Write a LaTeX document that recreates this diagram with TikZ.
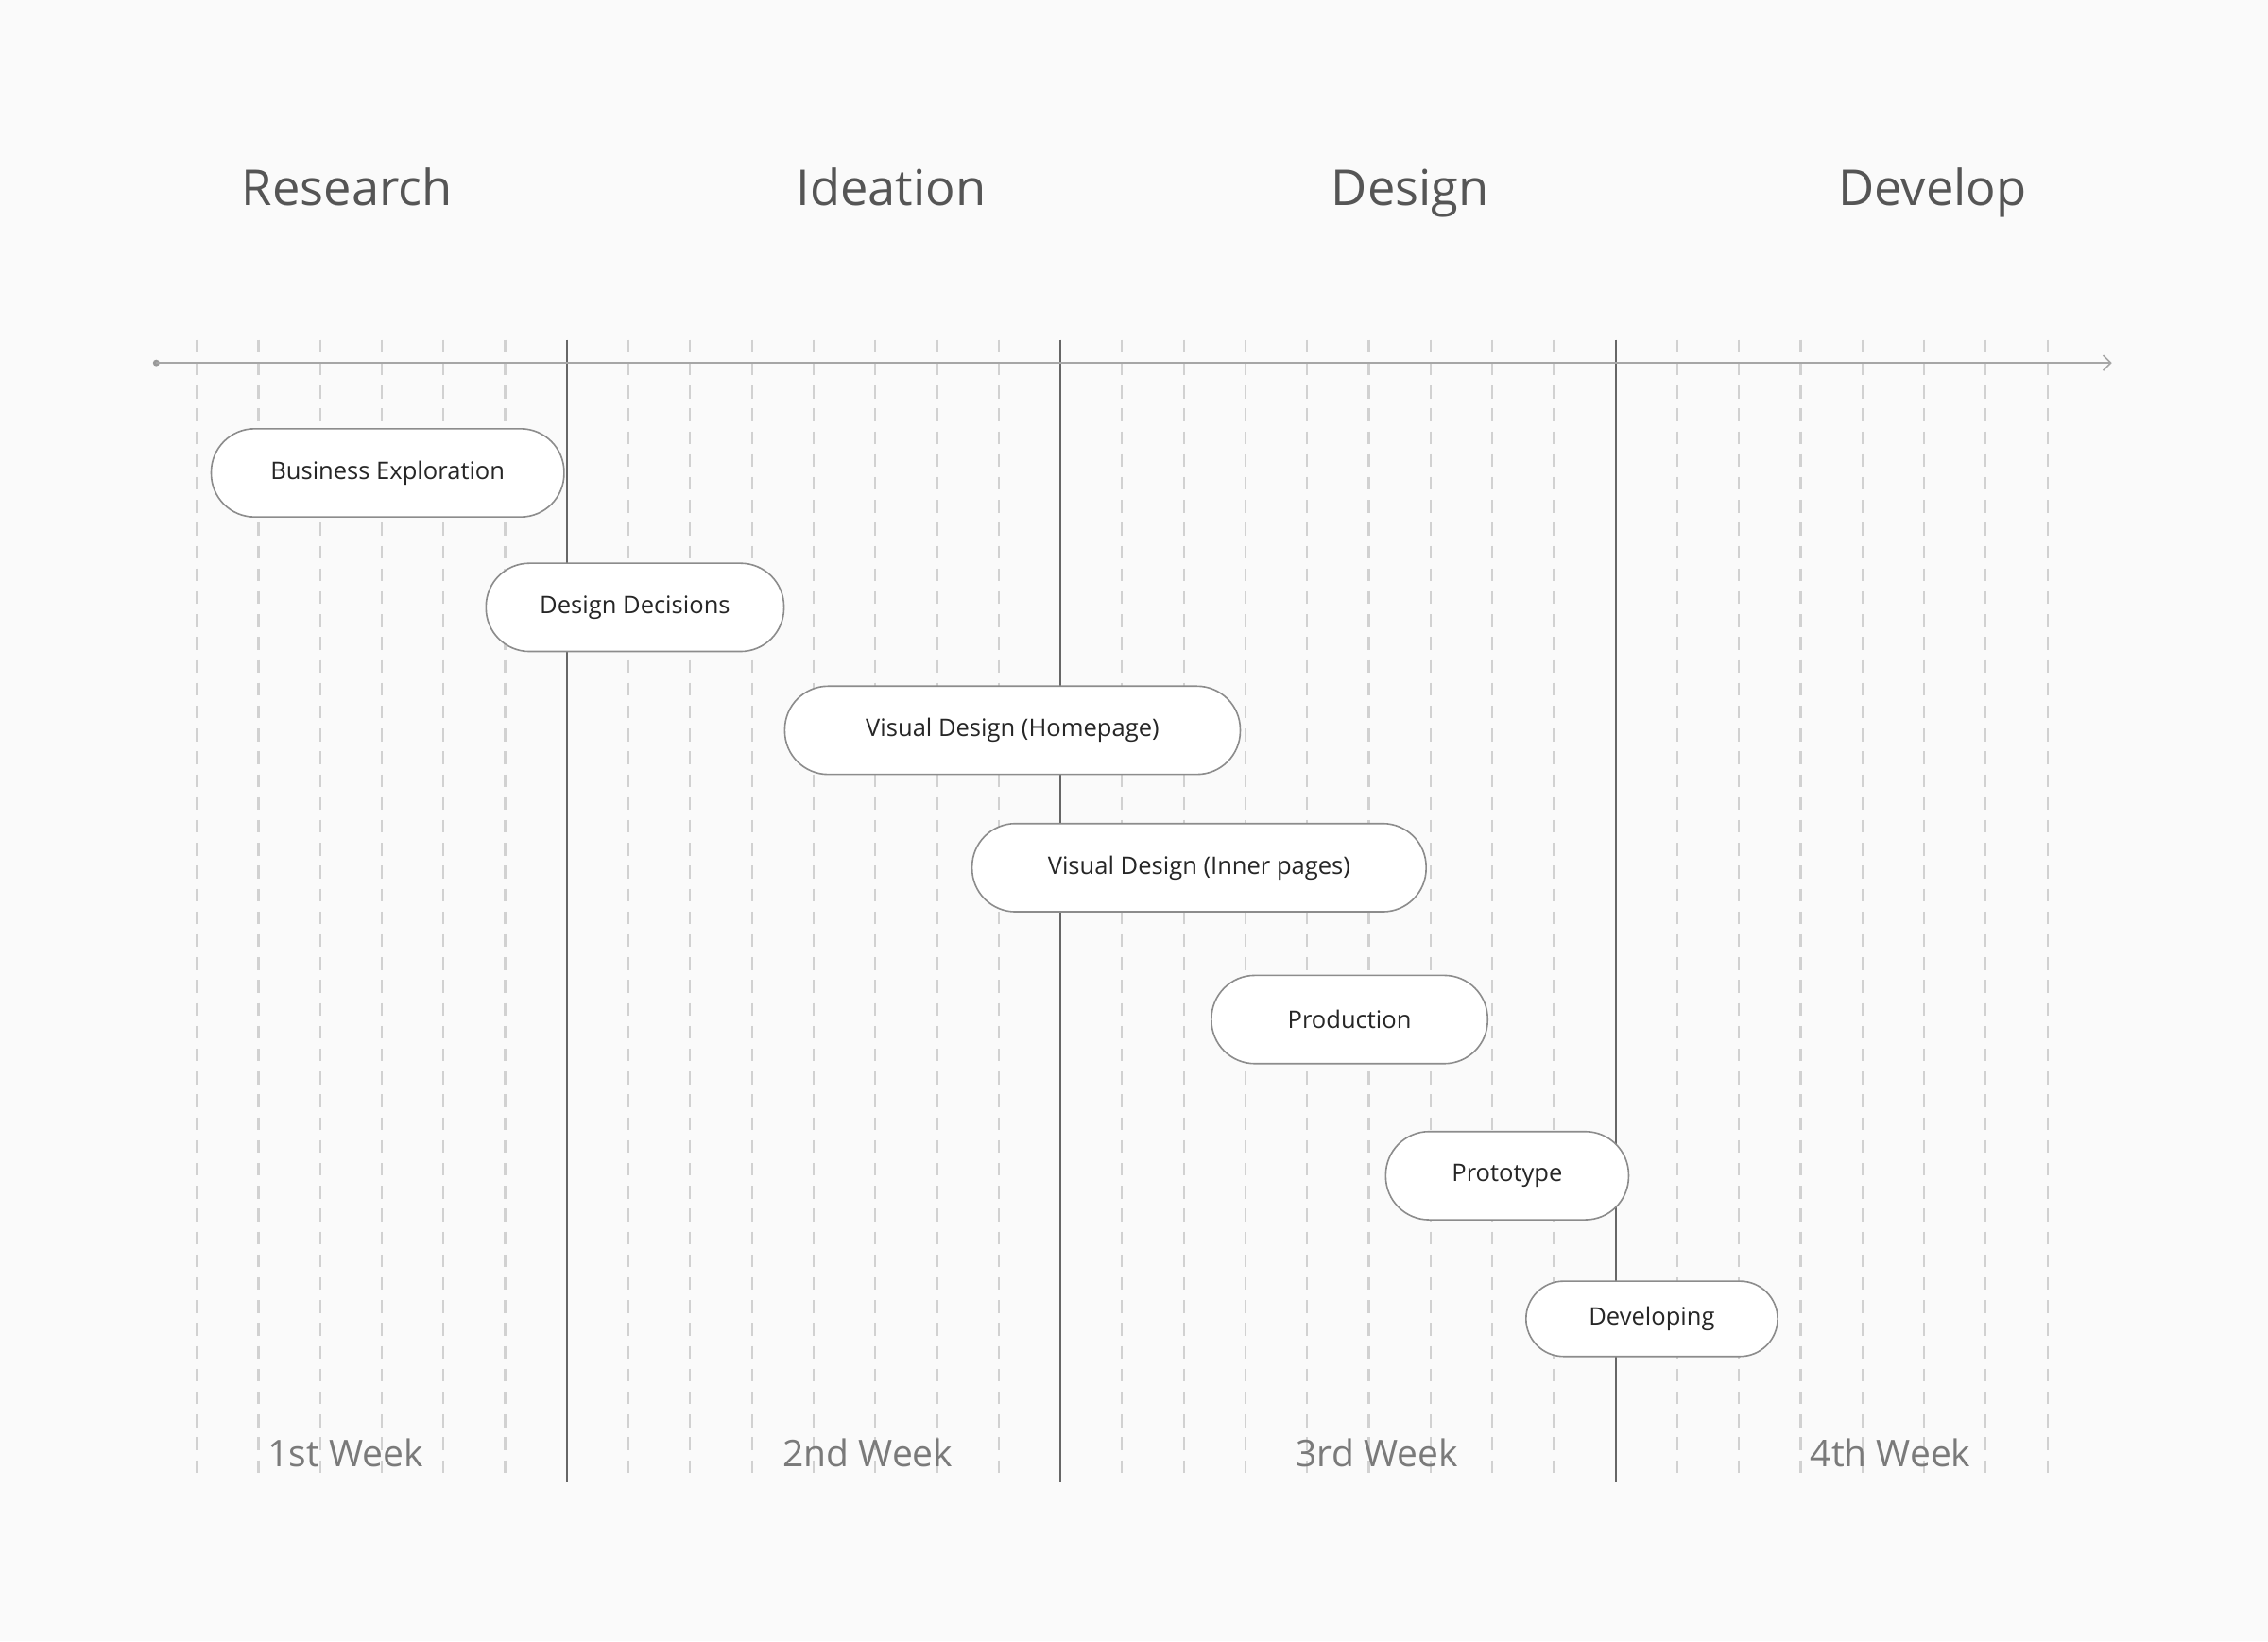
\documentclass[tikz,border=0pt]{standalone}
\usepackage{fontspec}
\setmainfont{Open Sans}
\usetikzlibrary{arrows.meta}
\definecolor{bgc}{HTML}{FAFAFA}
\definecolor{headc}{HTML}{555555}
\definecolor{weekc}{HTML}{7A7A7A}
\tikzset{
  pill/.style={draw=black!45, fill=white, rounded corners=0.6cm, line width=0.6pt,
    minimum height=1.22cm, inner sep=0pt, font=\fontsize{9.5}{11}\selectfont, text=black!85},
  phase/.style={anchor=base, font=\fontsize{19.5}{23}\selectfont, text=headc},
  week/.style={anchor=base, font=\fontsize{14.5}{17}\selectfont, text=weekc},
  tick/.style={draw=black!18, dashed, dash pattern=on 5pt off 4pt, line width=0.8pt},
  sep/.style={draw=black!60, line width=0.7pt}
}
\begin{document}
\begin{tikzpicture}[x=0.02cm,y=-0.02cm]
\fill[bgc] (0,0) rectangle (1568,1135);
\useasboundingbox (0,0) rectangle (1568,1135);

% grid of days
\foreach \i in {0,...,30}{
  \coordinate (t\i) at ({136+42.65*\i},235);
  \coordinate (b\i) at ({136+42.65*\i},1025);
}
\foreach \i in {0,...,30}{
  \ifnum\i=6 \else\ifnum\i=14 \else\ifnum\i=23 \else
  \draw[tick] (t\i) -- (b\i);
  \fi\fi\fi
}
\foreach \i in {6,14,23}
  \draw[sep] (t\i) -- (b\i);

% time axis
\coordinate (axs) at (108,251);
\coordinate (axe) at (1460,251);
\fill[black!40] (axs) circle (1.3pt);
\draw[black!35, line width=0.6pt, -{Straight Barb[length=3pt]}] (axs) -- (axe);

% phases
\node[phase] (research) at (240,142) {Research};
\node[phase] (ideation) at (616,142) {Ideation};
\node[phase] (design) at (975,142) {Design};
\node[phase] (develop) at (1336,142) {Develop};

% weeks
\node[week] (w1) at (239,1014) {1st Week};
\node[week] (w2) at (600,1014) {2nd Week};
\node[week] (w3) at (952,1014) {3rd Week};
\node[week] (w4) at (1307,1014) {4th Week};

% tasks
\node[pill, minimum width=4.88cm] (explore) at (268,327) {Business Exploration};
\node[pill, minimum width=4.12cm] (decide) at (439,420) {Design Decisions};
\node[pill, minimum width=6.3cm] (home) at (700,505) {Visual Design (Homepage)};
\node[pill, minimum width=6.28cm] (inner) at (829,600) {Visual Design (Inner pages)};
\node[pill, minimum width=3.82cm] (prod) at (933,705) {Production};
\node[pill, minimum width=3.36cm] (proto) at (1042,813) {Prototype};
\node[pill, minimum width=3.48cm, minimum height=1.04cm, rounded corners=0.52cm] (dev) at (1142,912) {Developing};
\end{tikzpicture}
\end{document}
